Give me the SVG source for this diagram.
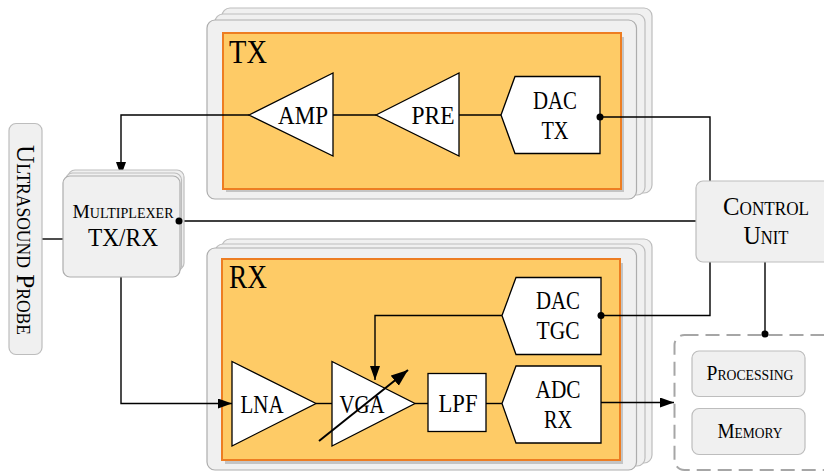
<svg xmlns="http://www.w3.org/2000/svg" width="824" height="471" viewBox="0 0 824 471">
<style>
text{font-family:"Liberation Serif","Times New Roman",serif;fill:#000;text-anchor:middle}
.card{fill:#f0f0f0;stroke:#bdbdbd;stroke-width:1.2}
.card2{fill:#f0f0f0;stroke:#adadad;stroke-width:1.2}
.shadow{fill:#c4c4c4}
.panel{fill:#fecb66;stroke:#ed7d22;stroke-width:2}
.w{fill:#fff;stroke:#000;stroke-width:1.3;stroke-linejoin:miter}
.t{font-size:26px}
.big{font-size:34px;text-anchor:start}
.sc{font-variant:small-caps}
.l{fill:none;stroke:#000;stroke-width:1.4}
.d{fill:#000}
</style>
<defs>
<marker id="arrow" markerUnits="userSpaceOnUse" markerWidth="16" markerHeight="12" refX="14" refY="5" orient="auto"><path d="M0 0L14 5L0 10Z" fill="#000"/></marker>
<marker id="gain" markerUnits="userSpaceOnUse" markerWidth="20" markerHeight="16" refX="17" refY="6.500" orient="auto"><path d="M0 0L17 6.500L0 13Z" fill="#000"/></marker>
</defs>

<g id="tx-block">
<rect class="card" x="222" y="8" width="430" height="185" rx="8"/>
<rect class="card" x="215" y="14" width="430" height="181" rx="8"/>
<rect class="card2" x="207" y="20" width="429.500" height="179" rx="8"/>
<rect class="shadow" x="226" y="37" width="398" height="155"/>
<rect class="panel" x="223" y="33" width="398" height="156"/>
<text class="big" x="229" y="63" textLength="38" lengthAdjust="spacingAndGlyphs">TX</text>
</g>
<g id="rx-block">
<rect class="card" x="222" y="239" width="430" height="224" rx="8"/>
<rect class="card" x="215" y="244" width="430" height="222" rx="8"/>
<rect class="card2" x="207" y="248" width="429.500" height="222" rx="8"/>
<rect class="shadow" x="225" y="263" width="398" height="201"/>
<rect class="panel" x="222" y="259" width="398" height="201"/>
<text class="big" x="229" y="288" textLength="38" lengthAdjust="spacingAndGlyphs">RX</text>
</g>

<g id="connectors">
<path class="l" d="M42 239H63"/>
<path class="l" d="M249 115H121V176" marker-end="url(#arrow)"/>
<path class="l" d="M333 115H376"/>
<path class="l" d="M459 115H501"/>
<path class="l" d="M600 117H710V181"/>
<path class="l" d="M179 221H696"/>
<path class="l" d="M121 277V403.500H232" marker-end="url(#arrow)"/>
<path class="l" d="M601 315.500H710V262"/>
<path class="l" d="M502 315.500H375V380" marker-end="url(#arrow)"/>
<path class="l" d="M316 403.500H332"/>
<path class="l" d="M415 403.500H428"/>
<path class="l" d="M486 403.500H502"/>
<path class="l" d="M601 402.500H674" marker-end="url(#arrow)"/>
<path class="l" d="M765 262V334"/>
</g>

<g id="ultrasound-probe">
<rect class="card" x="9" y="123.500" width="33" height="231" rx="7"/>
<text class="sc" transform="translate(17,240) rotate(90)" style="font-size:26px" textLength="190" lengthAdjust="spacingAndGlyphs">Ultrasound Probe</text>
</g>
<g id="multiplexer">
<rect class="card" x="68" y="170" width="116" height="100" rx="7"/>
<rect class="card" x="65.500" y="173" width="116" height="100" rx="7"/>
<rect class="card2" x="63" y="176" width="117" height="101" rx="7"/>
<text class="sc" x="123" y="218" style="font-size:19.500px" textLength="101" lengthAdjust="spacingAndGlyphs">Multiplexer</text>
<text class="t" x="123" y="246" textLength="70" lengthAdjust="spacingAndGlyphs">TX/RX</text>
</g>
<g id="control-unit">
<rect class="card" x="696" y="181" width="142" height="81" rx="7"/>
<text class="sc t" x="766" y="215" textLength="86" lengthAdjust="spacingAndGlyphs">Control</text>
<text class="sc t" x="766" y="244" textLength="45" lengthAdjust="spacingAndGlyphs">Unit</text>
</g>
<g id="amp">
<path class="w" d="M249 115L333 73V156Z"/>
<text class="t" x="303" y="123.500" textLength="50" lengthAdjust="spacingAndGlyphs">AMP</text>
</g>
<g id="pre">
<path class="w" d="M376 115L459 73V156Z"/>
<text class="t" x="433" y="123.500" textLength="43" lengthAdjust="spacingAndGlyphs">PRE</text>
</g>
<g id="dac-tx">
<path class="w" d="M501 115L515 76.500H600V153.500H515Z"/>
<text class="t" x="555" y="109" textLength="44" lengthAdjust="spacingAndGlyphs">DAC</text>
<text class="t" x="555" y="139" textLength="27" lengthAdjust="spacingAndGlyphs">TX</text>
</g>
<g id="dac-tgc">
<path class="w" d="M502 315.500L516 277.500H601V354.500H516Z"/>
<text class="t" x="558" y="309" textLength="44" lengthAdjust="spacingAndGlyphs">DAC</text>
<text class="t" x="558" y="339" textLength="43" lengthAdjust="spacingAndGlyphs">TGC</text>
</g>
<g id="lna">
<path class="w" d="M232 361.500L316 403.500L232 446Z"/>
<text class="t" x="262" y="413" textLength="43" lengthAdjust="spacingAndGlyphs">LNA</text>
</g>
<g id="vga">
<path class="w" d="M332 361.500L415 403.500L332 446Z"/>
<text class="t" x="362" y="413" textLength="45" lengthAdjust="spacingAndGlyphs">VGA</text>
</g>
<g id="lpf">
<rect class="w" x="428" y="373.500" width="58" height="58"/>
<text class="t" x="458" y="412" textLength="39" lengthAdjust="spacingAndGlyphs">LPF</text>
</g>
<g id="adc-rx">
<path class="w" d="M502 403.500L516 366H601V443H516Z"/>
<text class="t" x="558" y="398" textLength="45" lengthAdjust="spacingAndGlyphs">ADC</text>
<text class="t" x="558" y="427.500" textLength="28" lengthAdjust="spacingAndGlyphs">RX</text>
</g>
<g id="gain-arrow">
<path class="l" style="stroke-width:2" d="M319 441L408 370" marker-end="url(#gain)"/>
</g>
<g id="backend">
<rect x="674.500" y="335" width="170" height="135" rx="10" fill="#fff" stroke="#a6a6a6" stroke-width="2" stroke-dasharray="14 7"/>
</g>
<g id="processing">
<rect class="card" x="692" y="351" width="113" height="45.500" rx="7"/>
<text class="sc" x="750" y="380" style="font-size:20px" textLength="87" lengthAdjust="spacingAndGlyphs">Processing</text>
</g>
<g id="memory">
<rect class="card" x="692" y="408.500" width="113" height="46" rx="7"/>
<text class="sc" x="750" y="438" style="font-size:20px" textLength="65" lengthAdjust="spacingAndGlyphs">Memory</text>
</g>
<g id="junctions">
<circle class="d" cx="179" cy="221" r="3.500"/>
<circle class="d" cx="600" cy="117" r="3.500"/>
<circle class="d" cx="601" cy="315.500" r="3.500"/>
<circle class="d" cx="765" cy="334" r="3.500"/>
</g>
</svg>
